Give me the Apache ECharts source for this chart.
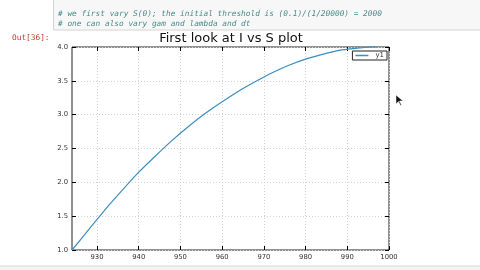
<!DOCTYPE html>
<html>
<head>
<meta charset="utf-8">
<script src="https://cdn.jsdelivr.net/npm/echarts@6/dist/echarts.min.js"></script>
<style>
html,body{margin:0;padding:0;background:#fff;}
#chart{width:480px;height:270px;}
</style>
</head>
<body>
<div id="chart"></div>
<script>
// Data
const sValues = [924, 928, 932, 936, 940, 944, 948, 952, 956, 960, 964, 968, 972, 976, 980, 984, 988, 992, 996, 997];
const iValues = [1.00, 1.30, 1.60, 1.88, 2.15, 2.39, 2.62, 2.83, 3.02, 3.19, 3.35, 3.49, 3.62, 3.73, 3.82, 3.89, 3.95, 3.98, 4.00, 4.00];
const xTickValues = [930, 940, 950, 960, 970, 980, 990, 1000];
const yTickValues = [1.0, 1.5, 2.0, 2.5, 3.0, 3.5, 4.0];
const seriesName = 'y1';
const titleText = 'First look at I vs S plot';
const codeLines = [
  '# we first vary S(0); the initial threshold is (0.1)/(1/20000) = 2000',
  '# one can also vary gam and lambda and dt'
];
const outLabel = 'Out[36]:';

const chart = echarts.init(document.getElementById('chart'), null, {renderer: 'canvas'});
const pts = sValues.map((s, i) => [s, iValues[i]]);

const tickStyle = {show: true, inside: true, length: 4, lineStyle: {color: '#000', width: 1}};
const labelFont = {fontFamily: 'DejaVu Sans', fontSize: 6.8, color: '#333'};
const gridLine = {show: true, lineStyle: {color: '#d2d2d2', type: [1, 2], width: 1}};

const option = {
  animation: false,
  backgroundColor: '#fff',
  title: {
    text: titleText,
    left: 231, top: 32, textAlign: 'center', padding: 0,
    textStyle: {fontFamily: 'DejaVu Sans', fontSize: 13, fontWeight: 'normal', color: '#111'}
  },
  legend: {
    data: [seriesName],
    right: 93, top: 51,
    icon: 'rect', itemWidth: 13, itemHeight: 1.5, itemGap: 4,
    padding: [1, 3, 1, 3],
    borderColor: '#222', borderWidth: 1, borderRadius: 0,
    backgroundColor: '#fff',
    textStyle: {fontFamily: 'DejaVu Sans', fontSize: 7, color: '#333', padding: [0, 0, 0, 2]}
  },
  grid: {
    left: 72, right: 91, top: 47, bottom: 20,
    show: true, borderColor: '#222', borderWidth: 1, backgroundColor: 'transparent',
    containLabel: false
  },
  xAxis: [{
    type: 'value', min: 924, max: 1000, position: 'bottom',
    axisLine: {show: false},
    axisTick: Object.assign({customValues: xTickValues}, tickStyle),
    axisLabel: Object.assign({customValues: xTickValues, margin: 4, formatter: v => String(v)}, labelFont),
    splitLine: gridLine
  }, {
    type: 'value', min: 924, max: 1000, position: 'top',
    axisLine: {show: false},
    axisTick: Object.assign({customValues: xTickValues}, tickStyle),
    axisLabel: {show: false},
    splitLine: {show: false}
  }],
  yAxis: [{
    type: 'value', min: 1, max: 4, interval: 0.5, position: 'left',
    axisLine: {show: false},
    axisTick: tickStyle,
    axisLabel: Object.assign({margin: 4, formatter: v => v.toFixed(1)}, labelFont),
    splitLine: gridLine
  }, {
    type: 'value', min: 1, max: 4, interval: 0.5, position: 'right',
    axisLine: {show: false},
    axisTick: tickStyle,
    axisLabel: {show: false},
    splitLine: {show: false}
  }],
  series: [{
    name: seriesName,
    type: 'line',
    data: pts,
    xAxisIndex: 0, yAxisIndex: 0,
    showSymbol: false, symbol: 'none',
    smooth: 0.25,
    clip: false,
    lineStyle: {color: '#3a8fc0', width: 1.2},
    itemStyle: {color: '#3a8fc0'}
  }],
  graphic: [
    {type: 'rect', shape: {x: 53.5, y: -2, width: 430, height: 32}, style: {fill: '#f7f7f7', stroke: '#d4d4d4', lineWidth: 1}, z: -1},
    {type: 'text', x: 58, y: 13.5, style: {text: codeLines[0], fontFamily: 'DejaVu Sans Mono', fontStyle: 'italic', fontSize: 7.8, fill: '#4a8a8a', verticalAlign: 'middle'}},
    {type: 'text', x: 58, y: 24, style: {text: codeLines[1], fontFamily: 'DejaVu Sans Mono', fontStyle: 'italic', fontSize: 7.8, fill: '#4a8a8a', verticalAlign: 'middle'}},
    {type: 'text', x: 12, y: 37.5, style: {text: outLabel, fontFamily: 'DejaVu Sans Mono', fontSize: 7.8, fill: '#c0392b', verticalAlign: 'middle'}},
    {type: 'rect', shape: {x: -1, y: 266, width: 482, height: 6}, style: {fill: '#f4f4f4', stroke: '#d8d8d8', lineWidth: 1}},
    {type: 'polygon', shape: {points: [[396, 95], [396, 104], [398.5, 101.5], [400.5, 105.5], [401.5, 105], [399.5, 101], [403, 101]]}, style: {fill: '#111', stroke: '#fff', lineWidth: 0.5}}
  ]
};
chart.setOption(option);
</script>
</body>
</html>
